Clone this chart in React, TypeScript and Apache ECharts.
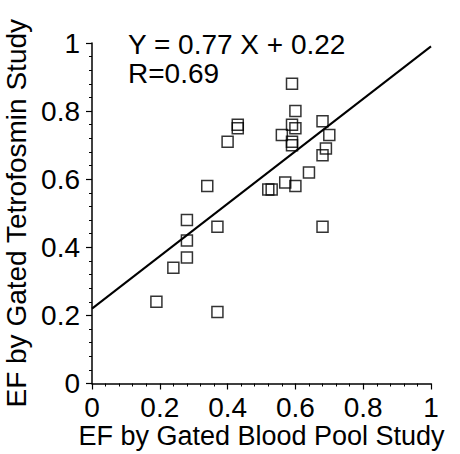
import React, { useEffect, useRef } from "react";
import * as echarts from "echarts";

const bloodPoolEF = [0.19, 0.24, 0.28, 0.28, 0.28, 0.37, 0.37, 0.34, 0.40, 0.43, 0.43, 0.52, 0.53, 0.57, 0.60, 0.56, 0.59, 0.59, 0.59, 0.60, 0.60, 0.59, 0.64, 0.68, 0.68, 0.69, 0.70, 0.68];
const tetrofosminEF = [0.24, 0.34, 0.37, 0.42, 0.48, 0.21, 0.46, 0.58, 0.71, 0.75, 0.76, 0.57, 0.57, 0.59, 0.58, 0.73, 0.70, 0.71, 0.76, 0.75, 0.80, 0.88, 0.62, 0.46, 0.67, 0.69, 0.73, 0.77];
const slope = 0.77;
const intercept = 0.22;
const fitRangeX = [0, 1];
const equationText = "Y = 0.77 X + 0.22";
const rText = "R=0.69";
const xTitle = "EF by Gated Blood Pool Study";
const yTitle = "EF by Gated Tetrofosmin Study";

const FONT = "'Liberation Sans', Arial, Helvetica, sans-serif";

export default function App() {
  const ref = useRef<HTMLDivElement>(null);
  useEffect(() => {
    if (!ref.current) return;
    const chart = echarts.init(ref.current, undefined, { renderer: "svg" });
    const points = bloodPoolEF.map((x, i) => [x, tetrofosminEF[i]]);
    const fit = fitRangeX.map((x) => [x, slope * x + intercept]);
    const axisCommon = {
      type: "value" as const,
      min: 0,
      max: 1,
      interval: 0.2,
      splitLine: { show: false },
      axisLine: { show: true, lineStyle: { color: "#000", width: 1.5 } },
      axisTick: { show: true, inside: false, length: 6, lineStyle: { color: "#000", width: 1.2 } },
      minorTick: { show: true, splitNumber: 5, length: 3, lineStyle: { color: "#000", width: 1 } },
      axisLabel: { color: "#000", fontSize: 28, fontFamily: FONT },
      nameLocation: "middle" as const,
    };
    chart.setOption({
      animation: false,
      backgroundColor: "#fff",
      grid: { left: 92, right: 29, top: 43, bottom: 70.5, containLabel: false, outerBoundsMode: "none" },
      xAxis: {
        ...axisCommon,
        axisLabel: { ...axisCommon.axisLabel, margin: 10 },
      },
      yAxis: {
        ...axisCommon,
        name: yTitle,
        nameGap: 55,
        nameTextStyle: { color: "#000", fontSize: 28, fontFamily: FONT },
        axisLabel: { ...axisCommon.axisLabel, margin: 12 },
      },
      graphic: [
        {
          type: "text",
          left: 128,
          top: 30,
          style: { text: equationText, fill: "#000", font: `28px ${FONT}` },
        },
        {
          type: "text",
          left: 128,
          top: 59,
          style: { text: rText, fill: "#000", font: `28px ${FONT}` },
        },
        {
          type: "text",
          x: 261.5,
          y: 436,
          style: {
            text: xTitle,
            fill: "#000",
            font: `27px ${FONT}`,
            align: "center",
            verticalAlign: "middle",
            textAlign: "center",
            textVerticalAlign: "middle",
          },
        },
      ],
      series: [
        {
          type: "line",
          data: fit,
          showSymbol: false,
          lineStyle: { color: "#000", width: 2 },
          z: 2,
        },
        {
          type: "scatter",
          data: points,
          symbol: "rect",
          symbolSize: 11,
          itemStyle: { color: "rgba(255,255,255,0)", borderColor: "#000", borderWidth: 1.5 },
          z: 3,
        },
      ],
    });
    return () => chart.dispose();
  }, []);
  return <div ref={ref} style={{ position: "absolute", left: 0, top: 0, width: 460, height: 454 }} />;
}
